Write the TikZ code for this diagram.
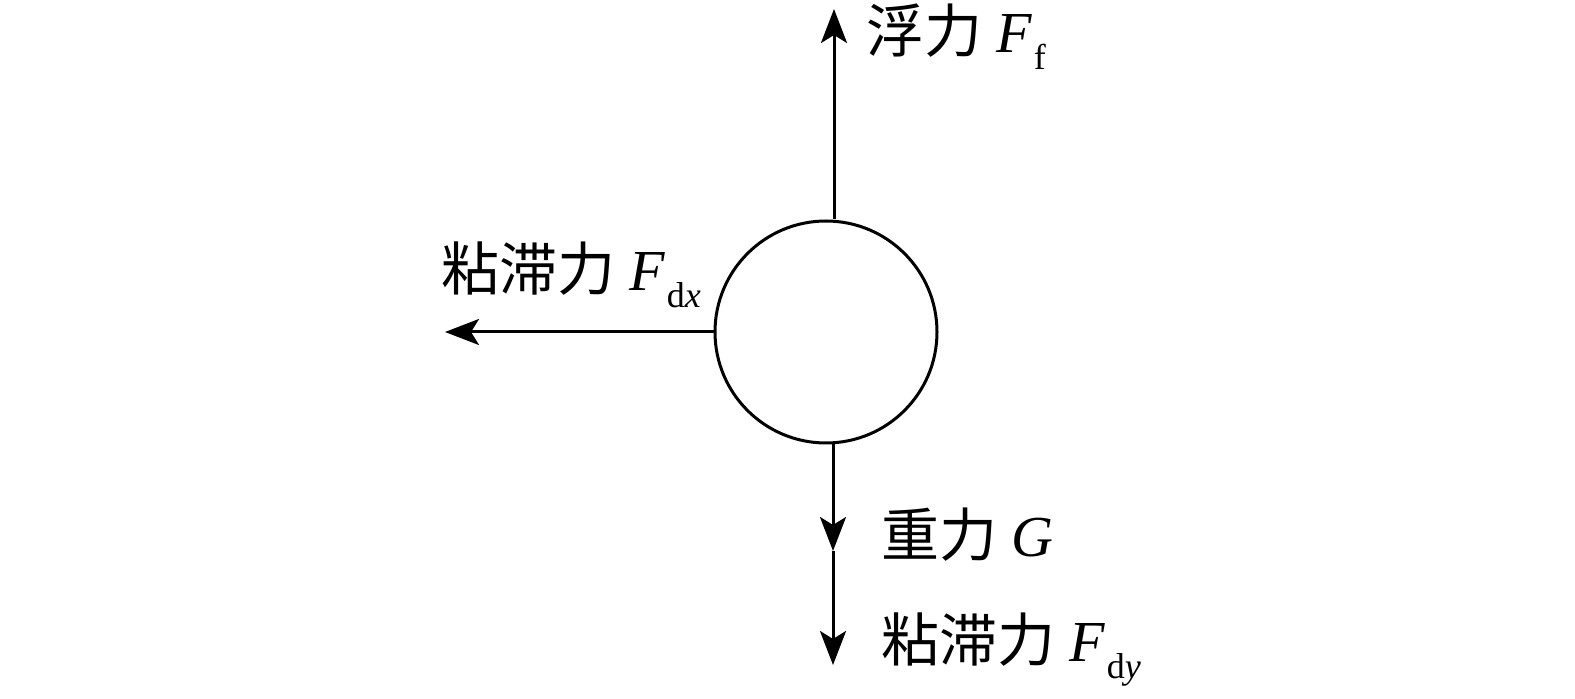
\documentclass[tikz,border=0pt]{standalone}
\usepackage{fontspec}
\setmainfont{Liberation Serif}
\newfontfamily\cjk{Noto Sans CJK SC}
\usetikzlibrary{arrows.meta}
\newcommand{\lbl}[2]{{\cjk #1}\ \textit{F}\kern0.5pt\raisebox{-0.28em}{\fontsize{18}{18}\selectfont #2}}
\begin{document}
\begin{tikzpicture}[x=0.5pt,y=-0.5pt,
  force/.style={line width=1.5pt,-{Stealth[length=17pt,width=13pt,inset=4pt]}},
  txt/.style={anchor=base west,inner sep=0pt,font=\fontsize{29}{35}\selectfont}]
\useasboundingbox (0,0) rectangle (1575,699);
\fill[white] (0,0) rectangle (1575,699);
\node[circle,draw,line width=1.5pt,minimum size=111pt,inner sep=0pt] (ball) at (826,332) {};
\coordinate (up) at (834,9);
\coordinate (left) at (445,332);
\coordinate (g) at (833,551);
\coordinate (dn) at (833,665);
\draw[force] ([xshift=4pt]ball.north) -- (up);
\draw[force] (ball.west) -- (left);
\draw[force] ([xshift=3.5pt]ball.south) -- (g);
\draw[force] (g) -- (dn);
\node[txt] (tf) at (866,53) {\lbl{浮力}{f}};
\node[txt] (tdx) at (441,291) {\lbl{粘滞力}{d\textit{x}}};
\node[txt] (tg) at (881,557) {{\cjk 重力}\ \textit{G}};
\node[txt] (tdy) at (881,662) {\lbl{粘滞力}{d\textit{y}}};
\end{tikzpicture}
\end{document}
